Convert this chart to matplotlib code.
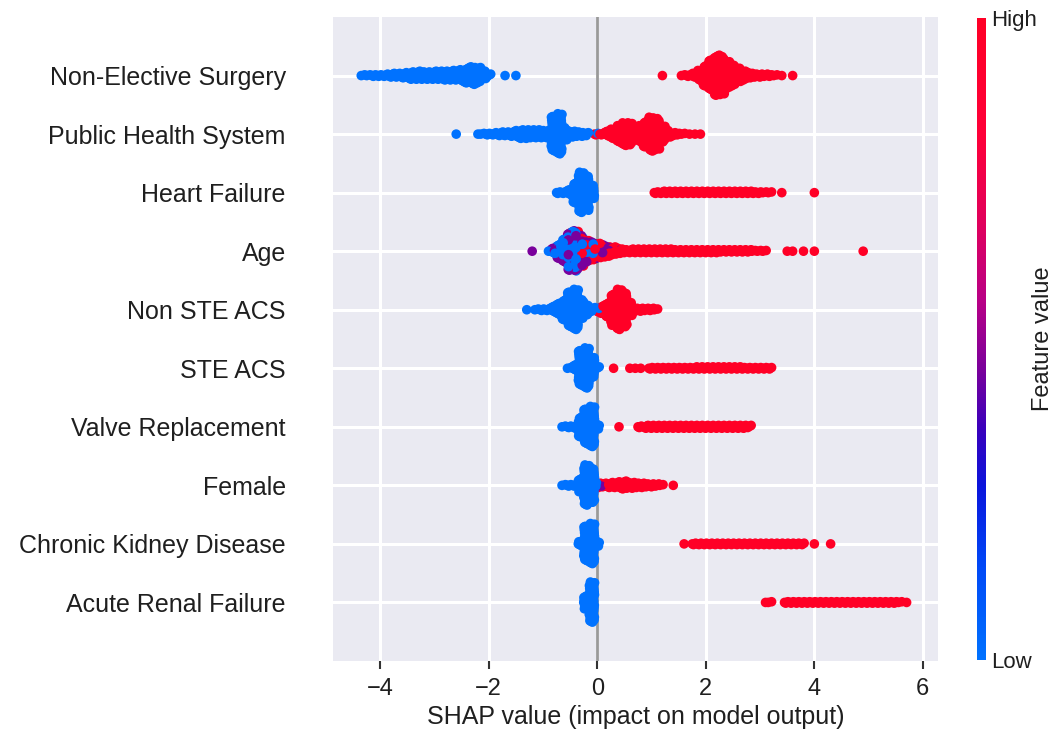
import numpy as np
import matplotlib
matplotlib.use("Agg")
import matplotlib.pyplot as plt
from matplotlib.colors import LinearSegmentedColormap, Normalize
from matplotlib.cm import ScalarMappable

plt.rcParams['font.family'] = ['Liberation Sans', 'DejaVu Sans']

# features, top to bottom
features = ["Non-Elective Surgery", "Public Health System", "Heart Failure", "Age",
            "Non STE ACS", "STE ACS", "Valve Replacement", "Female",
            "Chronic Kidney Disease", "Acute Renal Failure"]

# SHAP values as point counts per 0.1 wide bin;
# *_start is the centre of the first bin of each feature
low_start = [-4.3, -2.6, -0.7, -1.2, -1.3, -0.5, -0.6, -0.6, -0.3, -0.2]
low_counts = [
    [2, 2, 3, 3, 4, 5, 6, 7, 9, 11, 12, 11, 11, 12, 12, 13, 13, 14, 17, 22, 25, 22, 12, 4, 0, 0, 1, 0, 1],
    [1, 0, 0, 0, 1, 2, 3, 4, 5, 6, 7, 10, 13, 13, 12, 12, 11, 12, 50, 58, 18, 9, 8, 7, 5, 0, 1],
    [3, 4, 8, 29, 58, 51, 20],
    [0, 0, 0, 1, 4, 12, 18, 26, 22, 12, 4, 2],
    [1, 0, 2, 3, 4, 10, 18, 30, 50, 58, 28, 15, 6, 3],
    [2, 10, 50, 58, 30, 4],
    [2, 3, 5, 30, 50, 58, 8],
    [2, 3, 4, 20, 58, 50, 5],
    [6, 50, 58, 8],
    [20, 58],
]

# middle feature values (purple points)
mid_value = 0.45
mid_start = [0.0, 0.0, 0.0, -1.2, 0.0, 0.0, 0.0, 0.0, 0.0, 0.0]
mid_counts = [
    [], [], [],
    [1, 0, 0, 0, 4, 10, 16, 24, 26, 20, 14, 11, 8, 6, 4, 3, 1],
    [], [], [],
    [1, 1],
    [], [],
]

high_start = [1.2, 0.0, 1.1, -0.5, 0.0, 0.3, 0.4, 0.0, 1.6, 3.1]
high_counts = [
    [1, 0, 0, 0, 2, 3, 6, 15, 29, 42, 56, 53, 38, 29, 20, 13, 8, 6, 5, 4, 3, 2, 1, 0, 1],
    [2, 4, 8, 14, 24, 33, 32, 18, 24, 38, 49, 45, 24, 11, 5, 3, 2, 1, 1, 1],
    [3, 4, 4, 4, 4, 4, 4, 4, 4, 4, 4, 4, 4, 4, 4, 4, 4, 4, 3, 3, 2, 2, 0, 1, 0, 0, 0, 0, 0, 1],
    [6, 10, 12, 14, 14, 14, 13, 11, 9, 7, 6, 5,
     6, 6, 6, 6, 6, 6, 6, 6, 5, 5, 5, 5, 5, 5, 5, 5, 4, 4, 4, 4, 4, 4,
     2, 2, 2, 0, 0, 0, 1, 1, 0, 1, 0, 1, 0, 0, 0, 0, 0, 0, 0, 0, 1],
    [4, 12, 22, 45, 58, 50, 20, 6, 5, 4, 4, 2],
    [1, 0, 0, 1, 1, 1, 0, 3, 3, 3, 3, 3, 3, 3, 3, 4, 4, 4, 4, 4, 4, 4, 4, 4, 3, 3, 3, 3, 3, 3],
    [1, 0, 0, 0, 3, 5, 5, 5, 5, 5, 5, 5, 5, 5, 5, 5, 5, 5, 5, 5, 5, 5, 5, 5, 4],
    [2, 5, 7, 8, 10, 12, 9, 8, 7, 6, 5, 4, 2, 0, 1],
    [1, 0, 3, 3, 3, 3, 3, 3, 3, 3, 3, 3, 3, 3, 3, 3, 3, 3, 3, 3, 3, 3, 3, 0, 1, 0, 0, 1],
    [1, 2, 0, 0, 3, 3, 3, 3, 3, 3, 3, 3, 3, 3, 3, 3, 3, 3, 3, 3, 3, 3, 3, 3, 3, 2, 1],
]

cmap = LinearSegmentedColormap.from_list("red_blue", [
    (0.0, "#0072ff"), (0.15, "#0046f6"), (0.27, "#0a14dc"), (0.36, "#3a00bc"),
    (0.45, "#78009c"), (0.56, "#b80086"), (0.68, "#e0005c"), (0.82, "#ff0038"),
    (1.0, "#ff0026")])

GOLD = 0.6180339887


def swarm(groups):
    # stack the points of each bin in alternating layers, like shap's beeswarm
    bins = {}
    for start, counts, value in groups:
        k0 = int(round(start * 10))
        for i, c in enumerate(counts):
            for j in range(c):
                bins.setdefault(k0 + i, []).append(((j + 0.5) / c, value))
    xs, ys, vs = [], [], []
    for k in sorted(bins):
        pts = sorted(bins[k], key=lambda t: t[0])
        for layer, (_, v) in enumerate(pts):
            # spread the points of a bin over its 0.1 width
            off = 0.0 if len(pts) == 1 else ((layer * GOLD) % 1 - 0.5) * 0.1
            xs.append(k / 10 + off)
            ys.append(np.ceil(layer / 2) * ((layer % 2) * 2 - 1))
            vs.append(v)
    xs, ys, vs = np.array(xs), np.array(ys), np.array(vs)
    ys = ys * 0.36 / (np.max(ys) + 1)
    order = np.argsort((np.arange(len(xs)) * GOLD) % 1)
    return xs[order], ys[order], vs[order]


fig = plt.figure(figsize=(10.62, 7.31), dpi=100)
ax = fig.add_axes([0.3136, 0.0958, 0.5697, 0.8809])
ax.set_facecolor('#EAEAF2')
ax.set_axisbelow(True)
ax.grid(True, color='white', linewidth=2.2)
for s in ax.spines.values():
    s.set_visible(False)

ax.axvline(0, color='#999999', linewidth=2, zorder=1)

n = len(features)
for i in range(n):
    row = n - 1 - i
    groups = [(low_start[i], low_counts[i], 0.0),
              (mid_start[i], mid_counts[i], mid_value),
              (high_start[i], high_counts[i], 1.0)]
    xs, ys, vs = swarm(groups)
    ax.scatter(xs, row + ys, c=vs, cmap=cmap, vmin=0, vmax=1, s=48,
               linewidths=0, zorder=3)

ax.set_xlim(-4.87, 6.28)
ax.set_ylim(-1, n)
ax.set_xticks([-4, -2, 0, 2, 4, 6])
ax.set_yticks(range(n))
ax.set_yticklabels(features[::-1])
ax.tick_params(axis='y', length=0, pad=34, labelsize=18, labelcolor='#1f1f1f')
ax.tick_params(axis='x', length=6, width=1.5, color='#333333', pad=6,
               labelsize=17, labelcolor='#1f1f1f')
ax.set_xlabel("SHAP value (impact on model output)", fontsize=18,
              color='#1f1f1f', labelpad=4)

cax = fig.add_axes([0.920, 0.097, 0.0085, 0.878])
cb = fig.colorbar(ScalarMappable(norm=Normalize(0, 1), cmap=cmap), cax=cax,
                  ticks=[0, 1])
cb.set_ticklabels(["Low", "High"])
cb.ax.tick_params(length=0, labelsize=16, pad=4, labelcolor='#1f1f1f')
cb.outline.set_visible(False)
cb.set_label("Feature value", size=17, labelpad=-4, color='#1f1f1f')

fig.savefig("out.png", dpi=100)
